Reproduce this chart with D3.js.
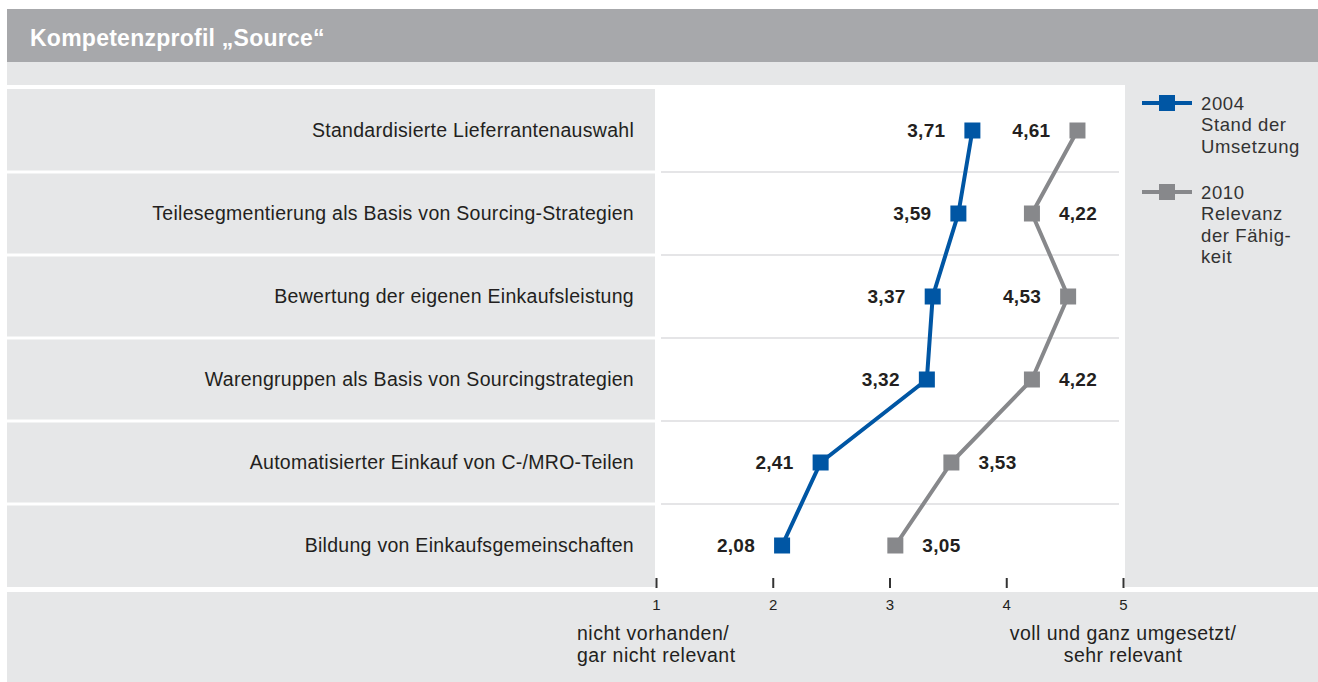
<!DOCTYPE html>
<html><head><meta charset="utf-8">
<script src="https://cdn.jsdelivr.net/npm/d3@7"></script>
<style>
body{margin:0;background:#fff;}
text{font-family:"Liberation Sans",Arial,sans-serif;}
</style></head>
<body>
<svg id="c" width="1318" height="682"></svg>
<script>
const title = "Kompetenzprofil \u201eSource\u201c";
const categories = [
  "Standardisierte Lieferrantenauswahl",
  "Teilesegmentierung als Basis von Sourcing-Strategien",
  "Bewertung der eigenen Einkaufsleistung",
  "Warengruppen als Basis von Sourcingstrategien",
  "Automatisierter Einkauf von C-/MRO-Teilen",
  "Bildung von Einkaufsgemeinschaften"
];
const values2004 = [3.71, 3.59, 3.37, 3.32, 2.41, 2.08];
const values2010 = [4.61, 4.22, 4.53, 4.22, 3.53, 3.05];
const labelSide2004 = ["left","left","left","left","left","left"];
const labelSide2010 = ["left","right","left","right","right","right"];
const tickValues = [1, 2, 3, 4, 5];
const legend2004 = ["2004", "Stand der", "Umsetzung"];
const legend2010 = ["2010", "Relevanz", "der F\u00e4hig-", "keit"];
const axisLeftTitle = ["nicht vorhanden/", "gar nicht relevant"];
const axisRightTitle = ["voll und ganz umgesetzt/", "sehr relevant"];

const BLUE = "#0056a4", GREY = "#87888b", TXT = "#231f20";
const LIGHT = "#e6e7e8", BAND = "#a7a8ab", SEP = "#dcdddf";

const svg = d3.select("#c");
const x = d3.scaleLinear().domain([1, 5]).range([656, 1123]);
const y = d3.scaleBand().domain(categories).range([89, 587]);

// backgrounds
svg.append("rect").attr("x",7).attr("y",9).attr("width",1311).attr("height",53).attr("fill",BAND);
svg.append("rect").attr("x",7).attr("y",62).attr("width",1311).attr("height",620).attr("fill",LIGHT);
svg.append("rect").attr("x",7).attr("y",85).attr("width",1118).attr("height",507).attr("fill","#fff");
svg.append("rect").attr("x",7).attr("y",587).attr("width",1311).attr("height",5).attr("fill","#fff");

svg.append("text").attr("x",30).attr("y",46).attr("fill","#fff")
  .attr("font-size",23).attr("font-weight","bold").attr("letter-spacing",0.25).text(title);

// label cells
svg.append("g").selectAll("rect").data(categories).join("rect")
  .attr("x",7).attr("width",648)
  .attr("y",(d,i)=>y(d)+(i===0?0:1.5))
  .attr("height",(d,i)=>y.bandwidth()-(i===0?0:1.5)-(i===categories.length-1?0:1.5))
  .attr("fill",LIGHT);

// separators in plot
svg.append("g").selectAll("line").data(categories.slice(1)).join("line")
  .attr("x1",661).attr("x2",1119)
  .attr("y1",d=>y(d)).attr("y2",d=>y(d))
  .attr("stroke",SEP).attr("stroke-width",1.5);

// category labels
svg.append("g").selectAll("text").data(categories).join("text")
  .attr("x",634).attr("y",d=>y(d)+y.bandwidth()/2)
  .attr("dy","0.35em").attr("text-anchor","end")
  .attr("font-size",19.5).attr("letter-spacing",0.28).attr("fill",TXT).text(d=>d);

// axis
const axis = d3.axisBottom(x).tickValues(tickValues).tickSize(-10).tickPadding(11)
  .tickFormat(d3.format("d"));
const ag = svg.append("g").attr("transform","translate(0,588)").call(axis);
ag.select(".domain").remove();
ag.selectAll(".tick line").attr("stroke","#333").attr("stroke-width",2);
ag.selectAll(".tick text").attr("font-size",15).attr("fill",TXT)
  .attr("font-family","'Liberation Sans',Arial,sans-serif");

svg.append("g").selectAll("text").data(axisLeftTitle).join("text")
  .attr("x",577).attr("y",(d,i)=>640+i*22)
  .attr("font-size",19.5).attr("letter-spacing",0.5).attr("fill",TXT).text(d=>d);
svg.append("g").selectAll("text").data(axisRightTitle).join("text")
  .attr("x",x(5)).attr("y",(d,i)=>640+i*22).attr("text-anchor","middle")
  .attr("font-size",19.5).attr("letter-spacing",0.45).attr("fill",TXT).text(d=>d);

// series
const fmt = v => d3.format(".2f")(v).replace(".", ",");
function series(vals, sides, color){
  const pts = vals.map((v,i)=>[x(v), y(categories[i])+y.bandwidth()/2]);
  svg.append("path").attr("d", d3.line()(pts)).attr("fill","none")
    .attr("stroke",color).attr("stroke-width",4).attr("stroke-linejoin","round");
  svg.append("g").selectAll("rect").data(pts).join("rect")
    .attr("x",d=>d[0]-8).attr("y",d=>d[1]-8).attr("width",16).attr("height",16).attr("fill",color);
  svg.append("g").selectAll("text").data(vals).join("text")
    .attr("x",(v,i)=>pts[i][0] + (sides[i]==="left" ? -27 : 27))
    .attr("y",(v,i)=>pts[i][1]).attr("dy","0.35em")
    .attr("text-anchor",(v,i)=>sides[i]==="left"?"end":"start")
    .attr("font-size",19).attr("font-weight","bold").attr("letter-spacing",0.3)
    .attr("fill",TXT).text(fmt);
}
series(values2004, labelSide2004, BLUE);
series(values2010, labelSide2010, GREY);

// legend
function legend(yc, lines, color){
  const g = svg.append("g");
  g.append("line").attr("x1",1142).attr("x2",1192).attr("y1",yc).attr("y2",yc)
    .attr("stroke",color).attr("stroke-width",4);
  g.append("rect").attr("x",1159).attr("y",yc-8).attr("width",16).attr("height",16).attr("fill",color);
  g.selectAll("text").data(lines).join("text")
    .attr("font-size",18.5).attr("letter-spacing",0.6).attr("fill","#333")
    .attr("x",1201).attr("y",(d,i)=>yc+7+i*21.3).text(d=>d);
}
legend(103, legend2004, BLUE);
legend(192, legend2010, GREY);
</script>
</body></html>
